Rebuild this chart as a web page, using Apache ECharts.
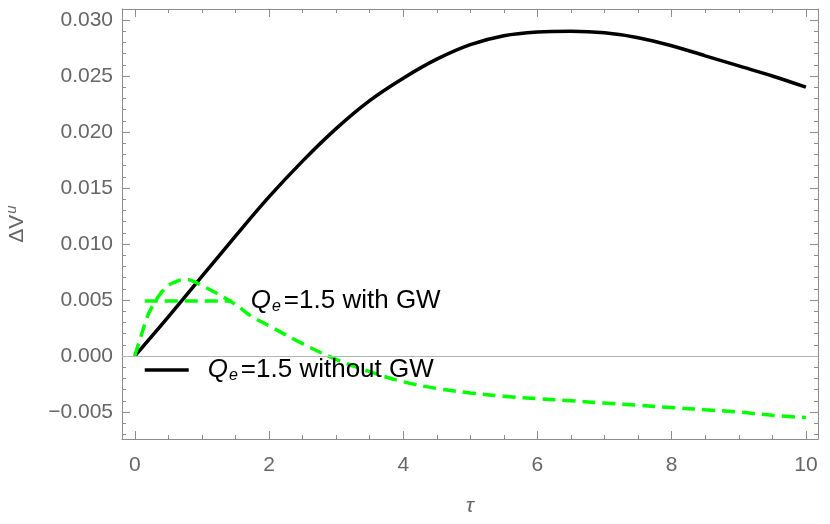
<!DOCTYPE html>
<html>
<head>
<meta charset="utf-8">
<script src="https://cdn.jsdelivr.net/npm/echarts@6/dist/echarts.min.js"></script>
<style>
  html, body { margin: 0; padding: 0; background: #fff; }
  #chart { width: 830px; height: 524px; }
</style>
</head>
<body>
<div id="chart"></div>
<script>
// τ grid + ΔV^u
const tauNoGW = [0, 0.5, 1, 1.5, 2, 2.5, 3, 3.5, 4, 4.5, 5, 5.5, 6, 6.5, 7, 7.5, 8, 8.5, 9, 9.5, 10];
const dvNoGW = [0, 0.0035, 0.0071, 0.0107, 0.0142, 0.0174, 0.0203, 0.0228, 0.0248, 0.0265, 0.0278, 0.0286, 0.02893, 0.0290, 0.02886, 0.02842, 0.0277, 0.0268, 0.0259, 0.0250, 0.0240];

const tauGW = [0, 0.1, 0.2, 0.3, 0.4, 0.5, 0.6, 0.7, 0.8, 0.9, 1, 1.25, 1.5, 1.75, 2, 2.5, 3, 3.5, 4, 4.5, 5, 5.5, 6, 6.5, 7, 7.5, 8, 8.5, 9, 9.5, 10];
const dvGW = [0, 0.0019, 0.0037, 0.0048, 0.0057, 0.0063, 0.0066, 0.0068, 0.0068, 0.0066, 0.0063, 0.0055, 0.0046, 0.0035, 0.0027, 0.0011, -0.0003, -0.0014, -0.0023, -0.0029, -0.0033, -0.0036, -0.0038, -0.0040, -0.0042, -0.0044, -0.0046, -0.0048, -0.0050, -0.0053, -0.0055];

const xMajor = [0, 2, 4, 6, 8, 10];
const yMajor = [-0.005, 0, 0.005, 0.01, 0.015, 0.02, 0.025, 0.03];

const X_MIN = -0.19, X_MAX = 10.18;
const Y_MIN = -0.00741, Y_MAX = 0.03098;

const xMinor = [];
for (let v = 0.5; v < X_MAX; v += 0.5) if (Math.abs(v / 2 - Math.round(v / 2)) > 1e-6) xMinor.push(+v.toFixed(2));
const yMinor = [];
for (let k = -7; k <= 30; k++) if (k % 5 !== 0) yMinor.push(k / 1000);

const FRAME = '#8c8c8c';
const LABEL = '#666666';
const FONT = '"Liberation Sans", Arial, sans-serif';

function xAx(pos, ticks, len, showLine, labels) {
  return {
    type: 'value', min: X_MIN, max: X_MAX, position: pos,
    axisLine: { show: showLine, onZero: false, lineStyle: { color: FRAME, width: 1 } },
    axisTick: { show: true, inside: true, length: len, customValues: ticks, lineStyle: { color: FRAME } },
    axisLabel: labels
      ? { show: true, customValues: xMajor, margin: 16, color: LABEL, fontSize: 21, fontFamily: FONT }
      : { show: false },
    splitLine: { show: false }
  };
}
function yAx(pos, ticks, len, showLine, labels) {
  return {
    type: 'value', min: Y_MIN, max: Y_MAX, position: pos,
    axisLine: { show: showLine, onZero: false, lineStyle: { color: FRAME, width: 1 } },
    axisTick: { show: true, inside: true, length: len, customValues: ticks, lineStyle: { color: FRAME } },
    axisLabel: labels
      ? {
          show: true, customValues: yMajor, margin: 9, color: LABEL, fontSize: 21, fontFamily: FONT,
          formatter: (v) => (v < -1e-9 ? '\u2212' : '') + Math.abs(v).toFixed(3)
        }
      : { show: false },
    splitLine: { show: false }
  };
}

const xAxes = [
  xAx('bottom', xMajor, 8, true, true),
  xAx('bottom', xMinor, 4, false, false),
  xAx('top', xMajor, 8, true, false),
  xAx('top', xMinor, 4, false, false)
];
Object.assign(xAxes[0], {
  name: 'τ', nameLocation: 'middle', nameGap: 57,
  nameTextStyle: { color: LABEL, fontSize: 21, fontStyle: 'italic', fontFamily: FONT }
});

const yAxes = [
  yAx('left', yMajor, 8, true, true),
  yAx('left', yMinor, 4, false, false),
  yAx('right', yMajor, 8, true, false),
  yAx('right', yMinor, 4, false, false)
];
Object.assign(yAxes[0], {
  name: '{a|ΔV}{b|u}', nameLocation: 'middle', nameGap: 91, nameRotate: 90,
  nameTextStyle: {
    color: LABEL, fontFamily: FONT,
    rich: {
      a: { color: LABEL, fontSize: 21, fontFamily: FONT },
      b: { color: LABEL, fontSize: 15, fontStyle: 'italic', fontFamily: FONT, padding: [0, 0, 12, 1] }
    }
  }
});

const legendRich = {
  q: { color: '#000', fontSize: 26, fontStyle: 'italic', fontFamily: FONT, padding: [0, 0, 0, 14] },
  s: { color: '#000', fontSize: 16, fontStyle: 'italic', fontFamily: FONT, padding: [11, 3, 0, 1] },
  t: { color: '#000', fontSize: 26, fontFamily: FONT }
};

const chart = echarts.init(document.getElementById('chart'), null, { renderer: 'canvas' });
chart.setOption({
  animation: false,
  backgroundColor: '#fff',
  grid: { left: 122, right: 12, top: 9, bottom: 85, outerBoundsMode: 'none' },
  xAxis: xAxes,
  yAxis: yAxes,
  legend: [
    {
      data: ['Qe=1.5 with GW'], left: 143, top: 288, padding: 0,
      itemWidth: 87, itemHeight: 14, selectedMode: false,
      itemStyle: { color: 'transparent', borderWidth: 0 },
      lineStyle: { color: '#00ff00', width: 3.5, type: [13, 7] },
      formatter: () => '{q|Q}{s|e}{t|=1.5 with GW}',
      textStyle: { rich: legendRich }
    },
    {
      data: ['Qe=1.5 without GW'], left: 143, top: 357, padding: 0,
      itemWidth: 44, itemHeight: 14, selectedMode: false,
      itemStyle: { color: 'transparent', borderWidth: 0 },
      lineStyle: { color: '#000', width: 3.5 },
      formatter: () => '{q|Q}{s|e}{t|=1.5 without GW}',
      textStyle: { rich: legendRich }
    }
  ],
  series: [
    {
      name: 'Qe=1.5 without GW', type: 'line', smooth: 0.35, symbol: 'none',
      data: tauNoGW.map((t, i) => [t, dvNoGW[i]]),
      lineStyle: { color: '#000', width: 3.5 },
      itemStyle: { color: '#000' },
      markLine: {
        silent: true, symbol: 'none', label: { show: false },
        lineStyle: { color: '#b5b5b5', width: 1, type: 'solid' },
        data: [{ yAxis: 0 }]
      },
      z: 2
    },
    {
      name: 'Qe=1.5 with GW', type: 'line', smooth: 0.35, symbol: 'none',
      data: tauGW.map((t, i) => [t, dvGW[i]]),
      lineStyle: { color: '#00ff00', width: 3.5, type: [13, 7] },
      itemStyle: { color: '#00ff00' },
      z: 3
    }
  ]
});
</script>
</body>
</html>
